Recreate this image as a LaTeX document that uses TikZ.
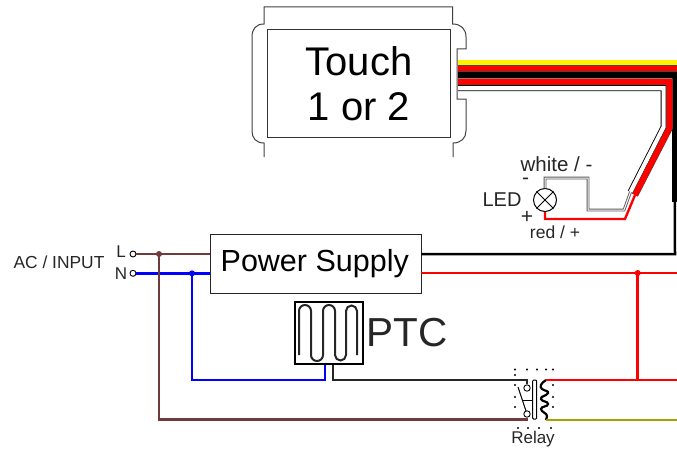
\documentclass[tikz,border=0pt]{standalone}
\usepackage{fontspec}
\setmainfont{Liberation Sans}
\definecolor{brownw}{HTML}{6E3A3A}
\definecolor{bluew}{HTML}{0000FF}
\definecolor{redw}{HTML}{FF0000}
\definecolor{olivew}{HTML}{A3A300}
\definecolor{edgew}{HTML}{4A4A30}
\newcommand{\fs}[1]{\fontsize{#1}{#1}\selectfont}
\tikzset{
  x=1pt,y=-1pt,
  txt/.style={inner sep=0pt,text=black!85},
  wire/.style={line width=2.5pt,line join=miter},
  jdot/.style={circle,fill,inner sep=0pt,minimum size=6pt},
  term/.style={circle,draw=black,fill=white,line width=0.9pt,inner sep=0pt,minimum size=6pt},
  band/.style={line width=6.2pt,draw=edgew,line join=miter},
}
\begin{document}
\begin{tikzpicture}
\useasboundingbox (0,0) rectangle (677,452);
% touch outline
\draw[line width=1pt,black!75] (264,157)--(264,143) .. controls (256,143) and (252,138) .. (252,131)--(252,37) .. controls (252,29) and (256,24) .. (264,24)--(264,7)--(452.5,7)--(452.5,24) .. controls (461,24) and (466,29) .. (466,37)--(466,49)--(457,49)--(457,99)--(466,99)--(466,131) .. controls (466,138) and (461,143) .. (453,143)--(453,157);
\node[draw=black!80,line width=1pt,minimum width=183.5pt,minimum height=107pt,inner sep=0pt,align=center,text=black,font=\fontsize{40}{44.7}\selectfont] (touch) at (359,83.5) {Touch\\1 or 2};
% ribbon coordinates
\coordinate (a1) at (458,62.8); \coordinate (a2) at (677,62.8);
\coordinate (b1) at (458,69); \coordinate (b2) at (677,69);
\coordinate (c1) at (458,75.2); \coordinate (c2) at (674.8,75.2); \coordinate (c3) at (674.8,202);
\coordinate (d1) at (458,81.7); \coordinate (d2) at (669.5,81.7); \coordinate (d3) at (669.5,128); \coordinate (d4) at (635,195);
\coordinate (e1) at (458,88.2); \coordinate (e2) at (663.6,88.2); \coordinate (e3) at (663.6,127); \coordinate (e4) at (630.5,192);
% white
\draw[line width=6pt,black,line join=miter] (e1)--(e2)--(e3)--(e4);
\draw[line width=4.2pt,white,line join=miter] (e1)--(e2)--(e3)--(e4);
% black
\draw[line width=6.2pt,black,line join=miter] (c1)--(c2)--(c3);
% red lower
\draw[band,line width=6.6pt] (d1)--(d2)--(d3)--(d4);
\draw[line width=5.6pt,redw,line join=miter] (d1)--(d2)--(d3)--(d4);
% red upper + yellow
\draw[band] (b1)--(b2);
\draw[line width=5pt,redw] (b1)--(b2);
\draw[band] (a1)--(a2);
\draw[line width=5pt,yellow] (a1)--(a2);
% power supply
\node[draw=black!85,fill=white,line width=0.9pt,minimum width=211pt,minimum height=59pt,inner sep=0pt,text=black,font=\fs{30.5}] (ps) at (315.5,263.5) {\hspace*{-1.5pt}Power Supply};
% black thin
\coordinate (k1) at (675,254);
\draw[wire,black] (c3)--(k1)--(ps.east |- k1);
% LED
\node[circle,draw=black,line width=1pt,minimum size=23pt,inner sep=0pt] (led) at (545,200) {};
\draw[line width=1pt] (led.45)--(led.225) (led.135)--(led.315);
\coordinate (w1) at (545,178); \coordinate (w2) at (588,178); \coordinate (w3) at (588,210); \coordinate (w4) at (624,210);
\draw[line width=2.8pt,black!65,line join=miter] (led.north)--(w1)--(w2)--(w3)--(w4)--(e4);
\draw[line width=1pt,white,line join=miter] (led.north)--(w1)--(w2)--(w3)--(w4)--(e4);
\coordinate (r1) at (545,219); \coordinate (r2) at (625,219);
\draw[line width=2.4pt,redw,line join=miter] (led.south)--(r1)--(r2)--(d4);
\node[txt,font=\fs{20.5}] (tw) at (556.5,164.5) {white / -};
\node[txt,font=\fs{21}] (tm) at (525.5,181) {-};
\node[txt,font=\fs{20}] (tl) at (502,200) {LED};
\node[txt,font=\fs{21}] (tp) at (527,217) {+};
\node[txt,font=\fs{17.5}] (tr) at (555,232) {red / +};
% AC
\node[txt,font=\fs{17.4}] (tac) at (59,262) {AC / INPUT};
\node[txt,font=\fs{17}] (tL) at (121,252) {L};
\node[txt,font=\fs{17}] (tN) at (121,274) {N};
\node[term] (L) at (133,254) {};
\node[term] (N) at (133,273.3) {};
\coordinate (lj) at (159,254);
\coordinate (nj) at (192,273.3);
% PTC
\node[draw=black,line width=2pt,minimum width=68pt,minimum height=62pt,inner sep=0pt] (ptc) at (328.5,333) {};
\draw[line width=2pt,black!85] (299,355)--(299,311) arc[start angle=180,end angle=360,radius=6]--(311,355) arc[start angle=180,end angle=0,radius=6]--(323,311) arc[start angle=180,end angle=360,radius=6]--(335,355) arc[start angle=180,end angle=0,radius=5.5]--(346,311) arc[start angle=180,end angle=360,radius=5.5]--(357,355);
\node[txt,font=\fs{40.5}] (tptc) at (407,332.5) {PTC};
% relay
\node[circle,draw=black,line width=0.9pt,fill=white,inner sep=0pt,minimum size=6.4pt] (c1r) at (527,388) {};
\node[circle,draw=black,line width=0.9pt,fill=white,inner sep=0pt,minimum size=6.4pt] (c2r) at (527,414) {};
\coordinate (s1) at (518,387); \coordinate (s2) at (526,411);
\draw[line width=1pt] (s1)--(s2);
\node[draw=black,line width=1pt,rounded corners=1pt,minimum width=4pt,minimum height=39pt,inner sep=0pt] (core) at (534.7,399.5) {};
\coordinate (s3) at (522,400);
\draw[line width=1pt] (s3)--(core.west |- s3);
\coordinate (ct) at (546,380); \coordinate (cb) at (546,420);
\draw[line width=2.2pt] (ct) .. controls (541,383) and (539,387) .. (542,389) .. controls (545,391) and (549,391) .. (548,393) .. controls (547,396) and (540,396) .. (541,399) .. controls (542,402) and (548,401) .. (548,404) .. controls (548,407) and (541,406) .. (541,409) .. controls (541,412) and (547,413) .. (547,416) .. controls (547,418) and (546,419) .. (cb);
\foreach \p in {(515,369.5),(527,369.5),(537,369.5),(546,369.5),(553,369.5),(515,375),(515,385),(553,385),(515,397),(553,397),(515,407),(553,407),(518,428),(528,428),(539,428),(551,428)}
  \fill \p circle[radius=1.2];
\node[txt,font=\fs{17}] (trl) at (533,439) {Relay};
% connectors
\coordinate (bk) at (159,419.5);
\coordinate (bl1) at (192,380); \coordinate (bl2) at (325,380);
\coordinate (k2) at (333,380); \coordinate (k3) at (527,380);
\coordinate (rj) at (637.7,273); \coordinate (rr) at (677,273);
\coordinate (q1) at (677,380); \coordinate (q2) at (677,420); \coordinate (br) at (527,419.5);
\draw[wire,black!85] (ptc.south -| k2)--(k2)--(k3)--(c1r.north);
\draw[wire,brownw] (L)--(ps.west |- L);
\draw[wire,bluew] (N)--(ps.west |- N);
\draw[wire,brownw] (lj)--(bk)--(br)--(c2r.south);
\draw[wire,bluew] (nj)--(bl1)--(bl2)--(ptc.south -| bl2);
\draw[wire,redw] (ps.east |- rj)--(rr);
\draw[wire,redw] (rj)--(rj |- q1);
\draw[wire,redw] (ct)--(q1);
\draw[wire,olivew] (cb)--(q2);
\node[jdot,brownw,fill=brownw] at (lj) {};
\node[jdot,bluew,fill=bluew] at (nj) {};
\node[jdot,redw,fill=redw] at (rj) {};
\end{tikzpicture}
\end{document}
